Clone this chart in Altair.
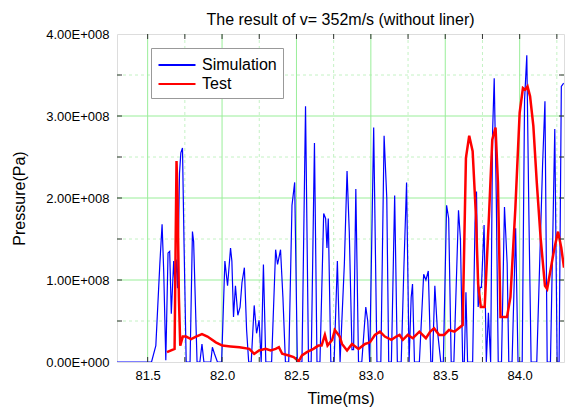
import altair as alt
import pandas as pd

# ---------------- data (pressure in units of 1e8 Pa) ----------------
SCALE = 1e8

sim_t = [81.294, 81.526, 81.555, 81.582, 81.597, 81.608, 81.622, 81.637, 81.648, 81.659,
         81.675, 81.683, 81.692, 81.701, 81.714, 81.723, 81.734, 81.745, 81.759, 81.785,
         81.801, 81.809, 81.832, 81.851, 81.865, 81.878, 81.924, 81.935, 81.949, 81.969,
         81.997, 82.019, 82.037, 82.057, 82.066, 82.077, 82.090, 82.106, 82.121, 82.134,
         82.150, 82.165, 82.179, 82.196, 82.216, 82.232, 82.249, 82.263, 82.278, 82.294,
         82.333, 82.360, 82.373, 82.393, 82.409, 82.426, 82.448, 82.470, 82.488, 82.506,
         82.537, 82.561, 82.581, 82.599, 82.621, 82.638, 82.658, 82.683, 82.696, 82.705,
         82.714, 82.731, 82.753, 82.775, 82.793, 82.822, 82.840, 82.855, 82.873, 82.884,
         82.899, 82.917, 82.939, 82.966, 82.979, 82.992, 83.019, 83.041, 83.067, 83.089,
         83.107, 83.120, 83.138, 83.160, 83.178, 83.204, 83.222, 83.240, 83.257, 83.271,
         83.280, 83.293, 83.326, 83.355, 83.370, 83.386, 83.403, 83.414, 83.430, 83.447,
         83.470, 83.487, 83.509, 83.523, 83.540, 83.558, 83.589, 83.602, 83.617, 83.628,
         83.639, 83.650, 83.684, 83.700, 83.710, 83.721, 83.734, 83.743, 83.761, 83.776,
         83.790, 83.805, 83.818, 83.829, 83.843, 83.856, 83.878, 83.898, 83.916, 83.927,
         83.949, 83.973, 83.989, 84.017, 84.033, 84.048, 84.062, 84.077, 84.115, 84.154,
         84.170, 84.185, 84.207, 84.236, 84.252, 84.265, 84.280, 84.296]
sim_p = [0, 0, 0.20, 1.20, 1.68, 1.10, 0.02, 1.33, 1.35, 0.59,
         1.23, 0.95, 1.25, 0.90, 2.30, 2.55, 2.61, 1.40, 0, 0,
         1.59, 1.47, 0, 0, 0.22, 0, 0, 0.18, 0.10, 0,
         0, 1.23, 0.93, 1.39, 1.23, 0.55, 0.93, 0.57, 0.67, 0.97,
         1.15, 0.39, 0, 0, 0.69, 0.35, 0.51, 0, 1.19, 0,
         0, 1.37, 1.19, 1.37, 0.79, 0, 0, 1.91, 2.19, 0,
         0, 3.12, 0, 0, 2.67, 0, 0, 1.81, 1.75, 1.39,
         1.75, 0, 0, 1.23, 0, 1.20, 2.33, 1.59, 0.15, 0.15,
         2.11, 0, 0, 0.67, 0.50, 0, 2.86, 0, 0, 2.76,
         2.00, 0, 0, 2.03, 0, 0, 1.15, 2.19, 0, 0.79,
         0.95, 0, 0, 1.07, 1.00, 1.11, 0, 0, 0.93, 0.39,
         0, 0, 1.91, 1.75, 0, 0, 1.85, 1.50, 0, 0,
         0.85, 0, 0, 1.69, 2.08, 0.67, 0.91, 0.91, 1.67, 0,
         0.60, 0, 2.80, 3.46, 2.00, 0, 0, 1.89, 1.20, 0,
         0, 1.63, 0, 0, 3.20, 3.74, 1.80, 0, 0, 2.40,
         3.18, 0, 0, 2.84, 0, 0, 3.36, 3.40]

test_t = [81.630, 81.681, 81.688, 81.694, 81.701, 81.710, 81.719, 81.736, 81.758, 81.792,
          81.825, 81.865, 81.902, 81.958, 82.002, 82.057, 82.117, 82.183, 82.216, 82.249,
          82.293, 82.327, 82.360, 82.382, 82.404, 82.448, 82.481, 82.515, 82.537, 82.570,
          82.614, 82.647, 82.669, 82.691, 82.709, 82.740, 82.758, 82.791, 82.806, 82.840,
          82.873, 82.917, 82.961, 82.994, 83.027, 83.061, 83.094, 83.138, 83.171, 83.193,
          83.215, 83.248, 83.282, 83.326, 83.370, 83.399, 83.425, 83.459, 83.492, 83.525,
          83.562, 83.617, 83.639, 83.661, 83.684, 83.706, 83.721, 83.739, 83.765, 83.794,
          83.816, 83.838, 83.854, 83.871, 83.915, 83.938, 83.971, 84.000, 84.022, 84.037,
          84.053, 84.070, 84.092, 84.115, 84.141, 84.170, 84.185, 84.214, 84.236, 84.258,
          84.280, 84.298]
test_p = [0.12, 0.16, 1.43, 2.45, 2.00, 0.79, 0.20, 0.31, 0.31, 0.28,
          0.31, 0.34, 0.31, 0.24, 0.20, 0.19, 0.18, 0.16, 0.10, 0.14,
          0.16, 0.14, 0.16, 0.18, 0.10, 0.08, 0.06, 0.01, 0.08, 0.12,
          0.16, 0.20, 0.20, 0.33, 0.20, 0.27, 0.39, 0.31, 0.22, 0.14,
          0.22, 0.16, 0.22, 0.24, 0.33, 0.37, 0.31, 0.27, 0.31, 0.33,
          0.27, 0.33, 0.29, 0.37, 0.29, 0.37, 0.41, 0.33, 0.33, 0.39,
          0.37, 0.45, 2.49, 2.76, 2.57, 1.79, 0.95, 0.67, 0.67, 1.79,
          2.71, 2.86, 2.19, 0.55, 0.55, 0.79, 1.87, 3.04, 3.34, 3.32,
          3.36, 3.24, 2.88, 2.19, 1.51, 0.93, 0.89, 1.19, 1.41, 1.59,
          1.39, 1.15]

series_names = ["Simulation", "Test"]
series_colors = ["#0000ff", "#ff0000"]

x_domain = [81.294, 84.298]
y_domain = [0, 4]
x_major = [81.5, 82.0, 82.5, 83.0, 83.5, 84.0]
x_minor = [81.75, 82.25, 82.75, 83.25, 83.75, 84.25]
y_major = [1, 2, 3]
y_minor = [0.5, 1.5, 2.5, 3.5]
y_labels = [0, 1, 2, 3, 4]

# ---------------- frames ----------------
df = pd.concat([
    pd.DataFrame({"t": sim_t, "p": [v * SCALE for v in sim_p], "series": "Simulation"}),
    pd.DataFrame({"t": test_t, "p": [v * SCALE for v in test_p], "series": "Test"}),
])
xmaj = pd.DataFrame({"t": x_major})
xmin = pd.DataFrame({"t": x_minor})
xall = pd.DataFrame({"t": x_major + x_minor})
ymaj = pd.DataFrame({"p": [v * SCALE for v in y_major]})
ymin = pd.DataFrame({"p": [v * SCALE for v in y_minor]})
yall = pd.DataFrame({"p": [v * SCALE for v in y_major + y_minor]})

W, H = 447, 328
FONT = "Liberation Sans"
xs = alt.Scale(domain=x_domain, nice=False, zero=False)
ys = alt.Scale(domain=[y_domain[0] * SCALE, y_domain[1] * SCALE], nice=False)

x_axis = alt.Axis(values=x_major, format=".1f", ticks=False, domain=False, grid=False,
                  labelFontSize=13, labelFont=FONT, labelColor="black", labelPadding=7,
                  titleFontSize=16, titleFont=FONT, titleFontWeight="normal",
                  titleColor="black", titlePadding=8)
y_axis = alt.Axis(values=[v * SCALE for v in y_labels], ticks=False, domain=False, grid=False,
                  labelExpr="datum.value == 0 ? '0.00E+000' : format(datum.value / 1e8, '.2f') + 'E+008'",
                  labelFontSize=13, labelFont=FONT, labelColor="black", labelPadding=8,
                  titleFontSize=16, titleFont=FONT, titleFontWeight="normal",
                  titleColor="black", titlePadding=18)
XT, YT = "Time(ms)", "Pressure(Pa)"


def xenc():
    return alt.X("t:Q", scale=xs, axis=x_axis, title=XT)


def yenc():
    return alt.Y("p:Q", scale=ys, axis=y_axis, title=YT)


GRID = "#99ee99"
GRID_MINOR = "#c4f2c4"

grid_xmaj = alt.Chart(xmaj).mark_rule(color=GRID, strokeWidth=1).encode(x=xenc())
grid_xmin = alt.Chart(xmin).mark_rule(color=GRID_MINOR, strokeWidth=1, strokeDash=[3, 3]).encode(x=xenc())
grid_ymaj = alt.Chart(ymaj).mark_rule(color=GRID, strokeWidth=1).encode(y=yenc())
grid_ymin = alt.Chart(ymin).mark_rule(color=GRID_MINOR, strokeWidth=1, strokeDash=[3, 3]).encode(y=yenc())

legend = alt.Legend(
    title=None, orient="none", legendX=34, legendY=14,
    symbolType="M-1.85,0H1.85", symbolSize=400, symbolOffset=9, symbolStrokeWidth=2,
    labelFontSize=16, labelFont=FONT, labelColor="black", labelOffset=14,
    strokeColor="#999999", fillColor="white", padding=6, rowPadding=0, cornerRadius=0,
)

lines = alt.Chart(df).mark_line(clip=True).encode(
    x=xenc(),
    y=yenc(),
    color=alt.Color("series:N", scale=alt.Scale(domain=series_names, range=series_colors), legend=legend),
    strokeWidth=alt.condition(alt.datum.series == "Test", alt.value(2.5), alt.value(1.2)),
)

TICK = "#333333"
tick_bottom = alt.Chart(xall).mark_rule(color=TICK).encode(x=xenc(), y=alt.value(H - 5), y2=alt.value(H))
tick_top = alt.Chart(xall).mark_rule(color=TICK).encode(x=xenc(), y=alt.value(0), y2=alt.value(5))
tick_left = alt.Chart(yall).mark_rule(color=TICK).encode(y=yenc(), x=alt.value(0), x2=alt.value(5))
tick_right = alt.Chart(yall).mark_rule(color=TICK).encode(y=yenc(), x=alt.value(W - 5), x2=alt.value(W))

chart = alt.layer(
    grid_xmin, grid_ymin, grid_xmaj, grid_ymaj, lines,
    tick_bottom, tick_top, tick_left, tick_right,
).properties(
    width=W, height=H,
    title=alt.TitleParams("The result of v= 352m/s (without liner)", fontSize=16, font=FONT,
                          fontWeight="normal", color="black", offset=9, dy=9, anchor="middle",
                          frame="group"),
    autosize=alt.AutoSizeParams(type="none"),
    padding={"left": 109, "top": 26, "right": 4, "bottom": 46},
).configure_view(
    stroke="#333333", strokeWidth=1.5
).configure(background="white")

chart.save("out.html", embed_options={"renderer": "svg", "actions": False})
